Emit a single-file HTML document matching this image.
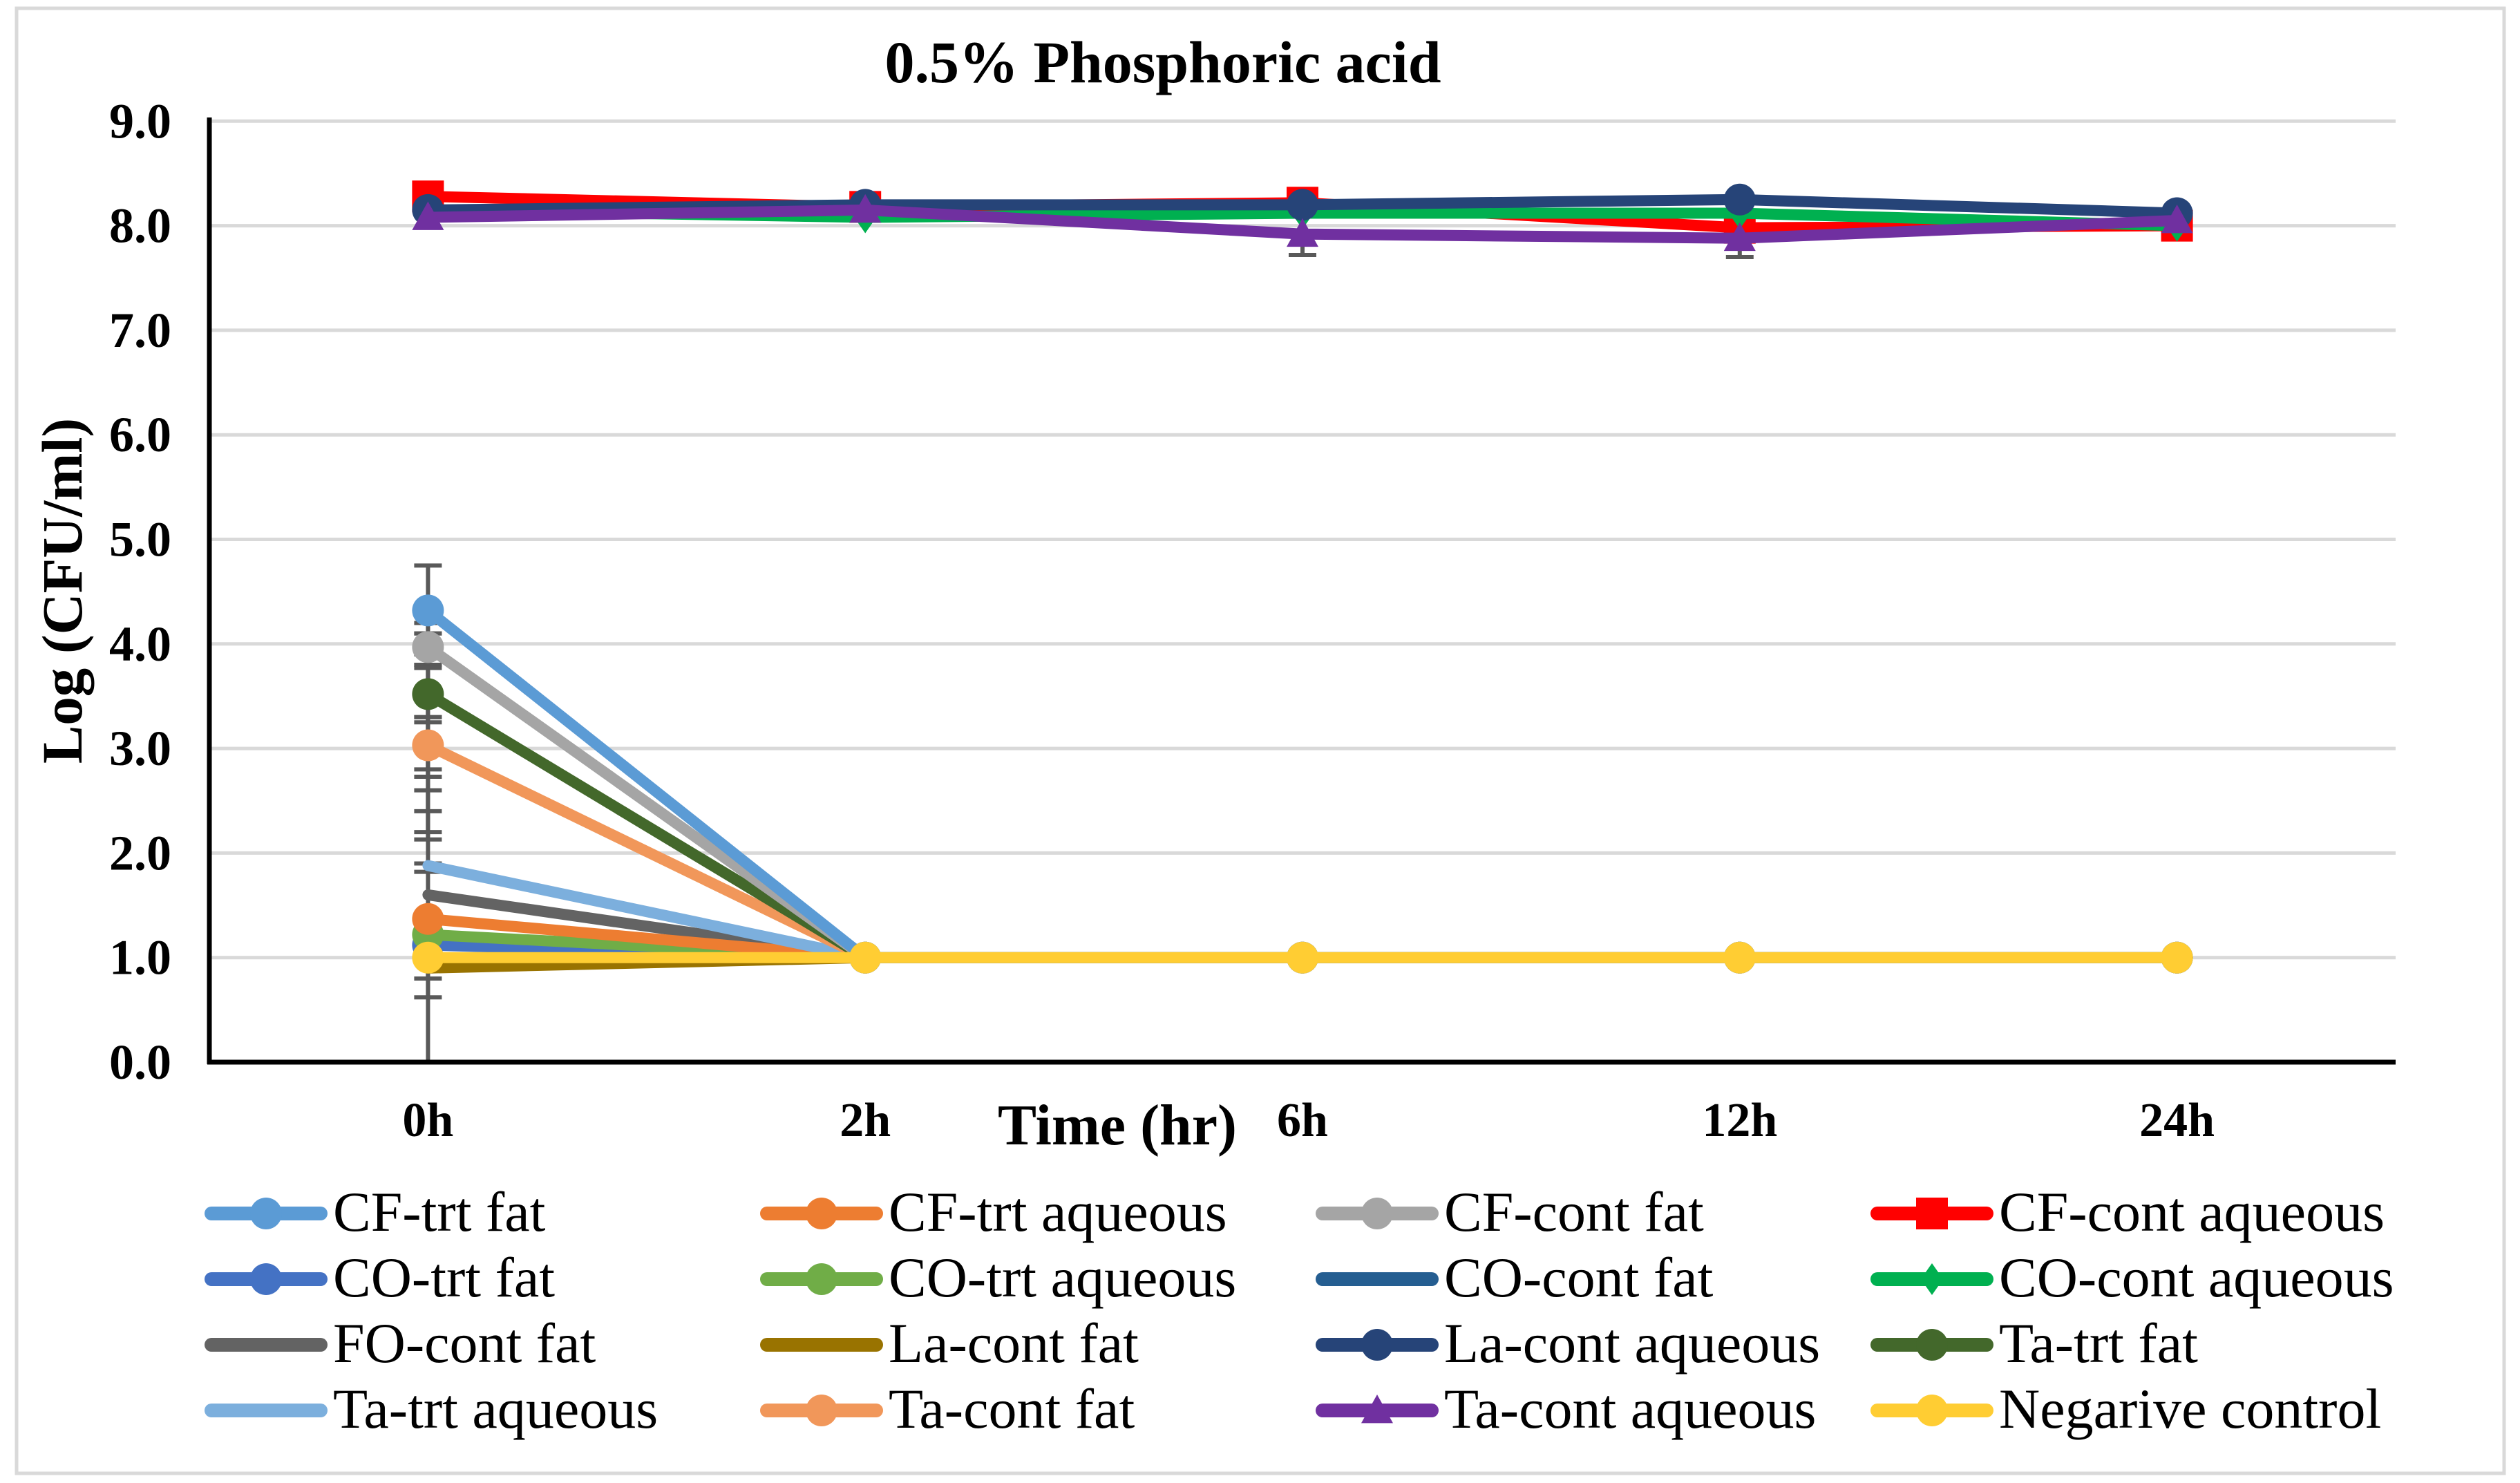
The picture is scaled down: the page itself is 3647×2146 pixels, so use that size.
<!DOCTYPE html>
<html><head><meta charset="utf-8"><style>
html,body{margin:0;padding:0;background:#fff;}
svg{display:block;font-family:"Liberation Serif","Times New Roman",serif;}
</style></head><body>
<svg id="chart" width="3647" height="2146" viewBox="0 0 3647 2146" xmlns="http://www.w3.org/2000/svg">
<rect x="24" y="12" width="3600" height="2120" fill="#fff" stroke="#d9d9d9" stroke-width="5"/>
<g id="grid"></g>
<g id="ylabels"></g>
<g id="xlabels"></g>
<g id="errs"></g>
<g id="series"></g>
<line x1="303" y1="170" x2="303" y2="1540" stroke="#000" stroke-width="7"/>
<line x1="300" y1="1537" x2="3467" y2="1537" stroke="#000" stroke-width="7"/>
<text x="1683" y="119" font-size="86" font-weight="bold" text-anchor="middle">0.5% Phosphoric acid</text>
<text transform="translate(118,855) rotate(-90)" font-size="83" font-weight="bold" text-anchor="middle">Log (CFU/ml)</text>
<text x="1617" y="1656" font-size="84" font-weight="bold" text-anchor="middle">Time (hr)</text>
<g id="legend"></g>
</svg>
<script>
const categories = ["0h","2h","6h","12h","24h"];
const yTicks = [0,1,2,3,4,5,6,7,8,9];
const names = ["CF-trt fat","CF-trt aqueous","CF-cont fat","CF-cont aqueous","CO-trt fat","CO-trt aqueous","CO-cont fat","CO-cont aqueous","FO-cont fat","La-cont fat","La-cont aqueous","Ta-trt fat","Ta-trt aqueous","Ta-cont fat","Ta-cont aqueous","Negarive control"];
const colors = ["#5B9BD5","#ED7D31","#A5A5A5","#FF0000","#4472C4","#70AD47","#255E91","#00B050","#636363","#997300","#264478","#43682B","#7CAFDD","#F1975A","#7030A0","#FFCD33"];
const markers = ["circle","circle","circle","square","circle","circle","none","diamond","none","none","circle","circle","none","circle","triangle","circle"];
const sCFtrtFat = [4.32,1,1,1,1];
const sCFtrtAq = [1.37,1,1,1,1];
const sCFcontFat = [3.97,1,1,1,1];
const sCFcontAq = [8.28,8.18,8.22,7.98,8.0];
const sCOtrtFat = [1.12,1,1,1,1];
const sCOtrtAq = [1.22,1,1,1,1];
const sCOcontFat = [3.0,1,1,1,1];
const sCOcontAq = [8.15,8.08,8.12,8.12,8.0];
const sFOcontFat = [1.6,1,1,1,1];
const sLacontFat = [0.9,1,1,1,1];
const sLacontAq = [8.15,8.2,8.2,8.25,8.12];
const sTatrtFat = [3.52,1,1,1,1];
const sTatrtAq = [1.88,1,1,1,1];
const sTacontFat = [3.03,1,1,1,1];
const sTacontAq = [8.08,8.15,7.92,7.88,8.05];
const sNeg = [1,1,1,1,1];
const seriesValues = [sCFtrtFat,sCFtrtAq,sCFcontFat,sCFcontAq,sCOtrtFat,sCOtrtAq,sCOcontFat,sCOcontAq,sFOcontFat,sLacontFat,sLacontAq,sTatrtFat,sTatrtAq,sTacontFat,sTacontAq,sNeg];
const errCat = [0,0,0,0,0,0,0,0,0,0,0,0,2,3];
const errLow = [0,0.62,0.8,1.82,2.13,2.2,2.4,2.73,2.8,3.25,3.77,3.9,7.72,7.7];
const errHigh = [4.75,1.4,1.2,1.9,2.6,3.8,3.3,3.3,4.2,3.8,4.1,4.1,8.1,8.1];

const NS="http://www.w3.org/2000/svg";
const X0=303,X1=3467,Y0=1537,YPU=151.3;
const band=(X1-X0)/categories.length;
const xs=i=>X0+band*(i+0.5);
const ys=v=>Y0-v*YPU;
function mk(tag,attrs,parent){const e=document.createElementNS(NS,tag);for(const k in attrs)e.setAttribute(k,attrs[k]);parent.appendChild(e);return e;}
const grid=document.getElementById('grid'),yl=document.getElementById('ylabels'),xl=document.getElementById('xlabels');
yTicks.forEach(t=>{
  if(t>0){const g=mk('line',{x1:X0,x2:X1,y1:ys(t),y2:ys(t),stroke:'#d9d9d9','stroke-width':5},grid);
  
  }
  const tx=mk('text',{x:248,y:ys(t)+24,'font-size':72,'font-weight':'bold','text-anchor':'end'},yl);
  tx.textContent=t.toFixed(1);
  
  
});
categories.forEach((c,i)=>{
  const tx=mk('text',{x:xs(i),y:1644,'font-size':70,'font-weight':'bold','text-anchor':'middle'},xl);
  tx.textContent=c;
  
  
});
const eg=document.getElementById('errs');
errLow.forEach((lo,k)=>{
  const x=xs(errCat[k]);
  const l=mk('line',{x1:x,x2:x,y1:ys(lo),y2:ys(errHigh[k]),stroke:'#595959','stroke-width':6},eg);
  
  
  [lo,errHigh[k]].forEach(v=>{const c=mk('line',{x1:x-20,x2:x+20,y1:ys(v),y2:ys(v),stroke:'#595959','stroke-width':6},eg);
  
  });
});
function marker(type,x,y,col,parent,r){
  let e;
  if(type==='circle')e=mk('circle',{cx:x,cy:y,r:r,fill:col},parent);
  else if(type==='square')e=mk('rect',{x:x-r,y:y-r,width:2*r,height:2*r,fill:col},parent);
  else if(type==='diamond')e=mk('polygon',{points:`${x},${y-r} ${x+r*0.7},${y} ${x},${y+r} ${x-r*0.7},${y}`,fill:col},parent);
  else if(type==='triangle')e=mk('polygon',{points:`${x},${y-r} ${x+r},${y+r*0.8} ${x-r},${y+r*0.8}`,fill:col},parent);
  return e;
}
const sg=document.getElementById('series');
const order=[9,8,4,5,1,12,6,13,11,2,0,15,3,7,10,14];
order.forEach(s=>{
  const vals=seriesValues[s];
  const g=mk('g',{},sg);
  
  
  const pts=vals.map((v,i)=>xs(i)+','+ys(v)).join(' ');
  const pl=mk('polyline',{points:pts,fill:'none',stroke:colors[s],'stroke-width':(s===6?4:16),'stroke-linejoin':'round','stroke-linecap':'round'},g);
  
  
  if(markers[s]!=='none')vals.forEach((v,i)=>{const m=marker(markers[s],xs(i),ys(v),colors[s],g,23);
    
    });
});
const lg=document.getElementById('legend');
const colX=[296,1100,1904,2707],rowY=[1756,1851,1946,2041];
names.forEach((n,i)=>{
  const cx=colX[i%4],cy=rowY[Math.floor(i/4)];
  const g=mk('g',{},lg);
  
  
  mk('line',{x1:cx+10,x2:cx+168,y1:cy,y2:cy,stroke:colors[i],'stroke-width':20,'stroke-linecap':'round'},g);
  if(markers[i]!=='none')marker(markers[i],cx+89,cy,colors[i],g,23);
  const t=mk('text',{x:cx+186,y:cy+25,'font-size':82},g);
  t.textContent=n;
});
</script>
</body></html>
